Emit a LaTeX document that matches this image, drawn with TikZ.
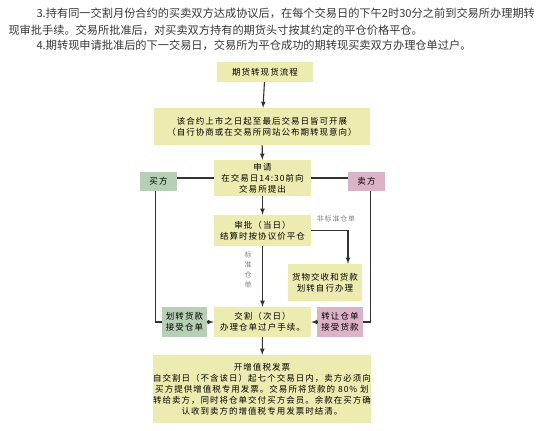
\documentclass[tikz,border=0pt]{standalone}
\usepackage{fontspec}
\setmainfont{Noto Sans CJK SC}
\newfontfamily\boxfont[LetterSpace=12]{Noto Sans CJK SC}
\usetikzlibrary{arrows}
\definecolor{boxyellow}{RGB}{237,236,176}
\definecolor{boxgreen}{RGB}{183,207,180}
\definecolor{boxpink}{RGB}{220,178,198}
\definecolor{linegray}{RGB}{50,50,50}
\definecolor{textgray}{RGB}{55,55,55}
\tikzset{
  ybox/.style={rectangle,fill=boxyellow,align=center,inner sep=0pt,
    font=\boxfont\fontsize{8.5}{11}\selectfont},
  gbox/.style={ybox,fill=boxgreen},
  pbox/.style={ybox,fill=boxpink},
  conn/.style={draw=linegray,line width=1.1pt},
  lbl/.style={text=gray,align=center,font=\boxfont\fontsize{7}{10}\selectfont},
  para/.style={anchor=west,text=textgray,font=\fontsize{11.2}{13}\selectfont},
}

\begin{document}
\begin{tikzpicture}[x=1pt,y=-1pt,>=latex]
      \useasboundingbox (0,0) rectangle (550,431);
      % text above the chart
      \node[para] (P1) at (33,13) {3.持有同一交割月份合约的买卖双方达成协议后，在每个交易日的下午2时30分之前到交易所办理期转};
      \node[para] (P2) at (5,30) {现审批手续。交易所批准后，对买卖双方持有的期货头寸按其约定的平仓价格平仓。};
      \node[para] (P3) at (33,45) {4.期转现申请批准后的下一交易日，交易所为平仓成功的期转现买卖双方办理仓单过户。};

      \node[ybox,minimum width=96pt,minimum height=20pt] (A) at (265,72) {期货转现货流程};
      \node[ybox,minimum width=216pt,minimum height=37pt] (B) at (262,126.5) {该合约上市之日起至最后交易日皆可开展\\（自行协商或在交易所网站公布期转现意向）};
      \node[ybox,minimum width=97pt,minimum height=36pt] (C) at (262.5,178) {申请\\在交易日14:30前向\\交易所提出};
      \node[ybox,minimum width=97pt,minimum height=31pt] (D) at (262.5,230.5) {审批（当日）\\结算时按协议价平仓};
      \node[ybox,minimum width=74pt,minimum height=37pt] (F) at (325,282.5) {货物交收和货款\\划转自行办理};
      \node[ybox,minimum width=97pt,minimum height=30pt] (E) at (262.5,322) {交割（次日）\\办理仓单过户手续。};
      \node[gbox,minimum width=37pt,minimum height=19pt] (G) at (158.5,181.5) {买方};
      \node[pbox,minimum width=37pt,minimum height=19pt] (H) at (366.5,181.5) {卖方};
      \node[gbox,minimum width=45pt,minimum height=30pt] (I) at (184.5,322) {划转货款\\接受仓单};
      \node[pbox,minimum width=46pt,minimum height=30pt] (J) at (340,322) {转让仓单\\接受货款};
      \node[ybox,minimum width=218pt,minimum height=68pt] (K) at (262,389) {开增值税发票\\自交割日（不含该日）起七个交易日内，卖方必须向\\买方提供增值税专用发票。交易所将货款的 80\% 划\\转给卖方，同时将仓单交付买方会员。余款在买方确\\认收到卖方的增值税专用发票时结清。};

      \node[lbl] (N) at (336,219) {非标准仓单};
      \node[lbl] (S) at (248,270) {标\\准\\仓\\单};

      \draw[conn,->] (A) -- (B);
      \draw[conn,->] (B) -- (C);
      \draw[conn,->] (C) -- (D);
      \draw[conn,->] (D) -- (E);
      \draw[conn,->] (E) -- (K);
      \draw[conn] (C.west) -- (C.west -| G.east);
      \draw[conn] (C.east) -- (C.east -| H.west);
      \draw[conn,->] (D.east) -| ([xshift=23pt]F.north);
      \draw[conn] ([xshift=-3pt]G.south) |- (I.west);
      \draw[conn] ([xshift=4pt]H.south) |- (J.east);
      \draw[conn,->] (I) -- (E);
      \draw[conn,->] (J) -- (E);
    \end{tikzpicture}
\end{document}
